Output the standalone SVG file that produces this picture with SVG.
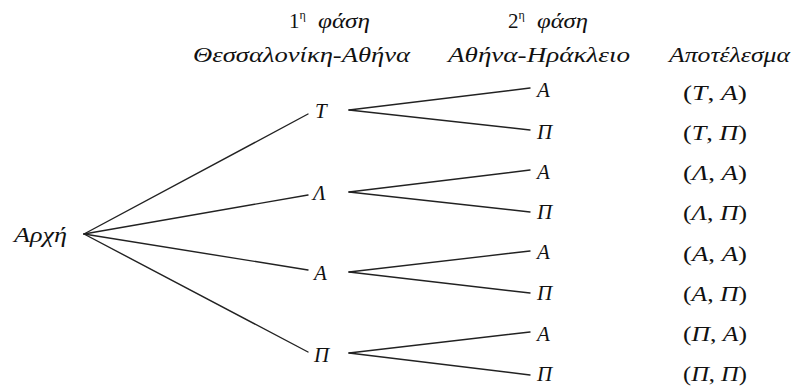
<svg xmlns="http://www.w3.org/2000/svg" width="794" height="387" viewBox="0 0 794 387">
<style>
text{font-family:"Liberation Serif","DejaVu Serif",serif;font-size:21px;fill:#111}
.i{font-style:italic}
.sup{font-size:12px}
line{stroke:#222;stroke-width:1.4;stroke-linecap:round}
</style>
<rect width="794" height="387" fill="#fff"/>
<g id="headers">
<text id="h1" x="289" y="28"><tspan>1</tspan><tspan class="sup" dy="-9">η</tspan></text>
<text id="h1f" class="i" x="318" y="28" textLength="52" lengthAdjust="spacingAndGlyphs">φάση</text>
<text id="h1b" class="i" x="193" y="62" textLength="217" lengthAdjust="spacingAndGlyphs">Θεσσαλονίκη-Αθήνα</text>
<text id="h2" x="508" y="28"><tspan>2</tspan><tspan class="sup" dy="-9">η</tspan></text>
<text id="h2f" class="i" x="537" y="28" textLength="51" lengthAdjust="spacingAndGlyphs">φάση</text>
<text id="h2b" class="i" x="448" y="62" textLength="182" lengthAdjust="spacingAndGlyphs">Αθήνα-Ηράκλειο</text>
<text id="h3" class="i" x="669" y="62" textLength="121" lengthAdjust="spacingAndGlyphs">Αποτέλεσμα</text>
</g>
<g id="connectors">
<line x1="84" y1="234" x2="308" y2="114"/>
<line x1="84" y1="234" x2="308" y2="195"/>
<line x1="84" y1="234" x2="308" y2="270"/>
<line x1="84" y1="234" x2="308" y2="352"/>
<line x1="349" y1="110" x2="530" y2="88"/>
<line x1="349" y1="110" x2="530" y2="130"/>
<line x1="349" y1="192" x2="530" y2="170"/>
<line x1="349" y1="192" x2="530" y2="212"/>
<line x1="349" y1="272" x2="530" y2="251"/>
<line x1="349" y1="272" x2="530" y2="293"/>
<line x1="349" y1="353" x2="530" y2="332"/>
<line x1="349" y1="353" x2="530" y2="375"/>
</g>
<g id="root"><text class="i" x="14" y="242" textLength="53" lengthAdjust="spacingAndGlyphs">Αρχή</text></g>
<g id="n1"><text class="i" x="315" y="118">Τ</text></g>
<g id="n2"><text class="i" x="313" y="200">Λ</text></g>
<g id="n3"><text class="i" x="314" y="280">Α</text></g>
<g id="n4"><text class="i" x="314" y="362">Π</text></g>
<g id="n11"><text class="i" x="537" y="97">Α</text></g>
<g id="n12"><text class="i" x="537" y="139">Π</text></g>
<g id="n21"><text class="i" x="537" y="179">Α</text></g>
<g id="n22"><text class="i" x="537" y="219">Π</text></g>
<g id="n31"><text class="i" x="537" y="259">Α</text></g>
<g id="n32"><text class="i" x="537" y="300">Π</text></g>
<g id="n41"><text class="i" x="537" y="341">Α</text></g>
<g id="n42"><text class="i" x="537" y="381">Π</text></g>
<g id="results">
<text x="683" y="100" textLength="64" lengthAdjust="spacingAndGlyphs">(<tspan class="i">Τ</tspan>, <tspan class="i">Α</tspan>)</text>
<text x="683" y="140" textLength="64" lengthAdjust="spacingAndGlyphs">(<tspan class="i">Τ</tspan>, <tspan class="i">Π</tspan>)</text>
<text x="683" y="180" textLength="64" lengthAdjust="spacingAndGlyphs">(<tspan class="i">Λ</tspan>, <tspan class="i">Α</tspan>)</text>
<text x="683" y="220" textLength="64" lengthAdjust="spacingAndGlyphs">(<tspan class="i">Λ</tspan>, <tspan class="i">Π</tspan>)</text>
<text x="683" y="261" textLength="64" lengthAdjust="spacingAndGlyphs">(<tspan class="i">Α</tspan>, <tspan class="i">Α</tspan>)</text>
<text x="683" y="301" textLength="64" lengthAdjust="spacingAndGlyphs">(<tspan class="i">Α</tspan>, <tspan class="i">Π</tspan>)</text>
<text x="683" y="341" textLength="64" lengthAdjust="spacingAndGlyphs">(<tspan class="i">Π</tspan>, <tspan class="i">Α</tspan>)</text>
<text x="683" y="381" textLength="64" lengthAdjust="spacingAndGlyphs">(<tspan class="i">Π</tspan>, <tspan class="i">Π</tspan>)</text>
</g>
</svg>
